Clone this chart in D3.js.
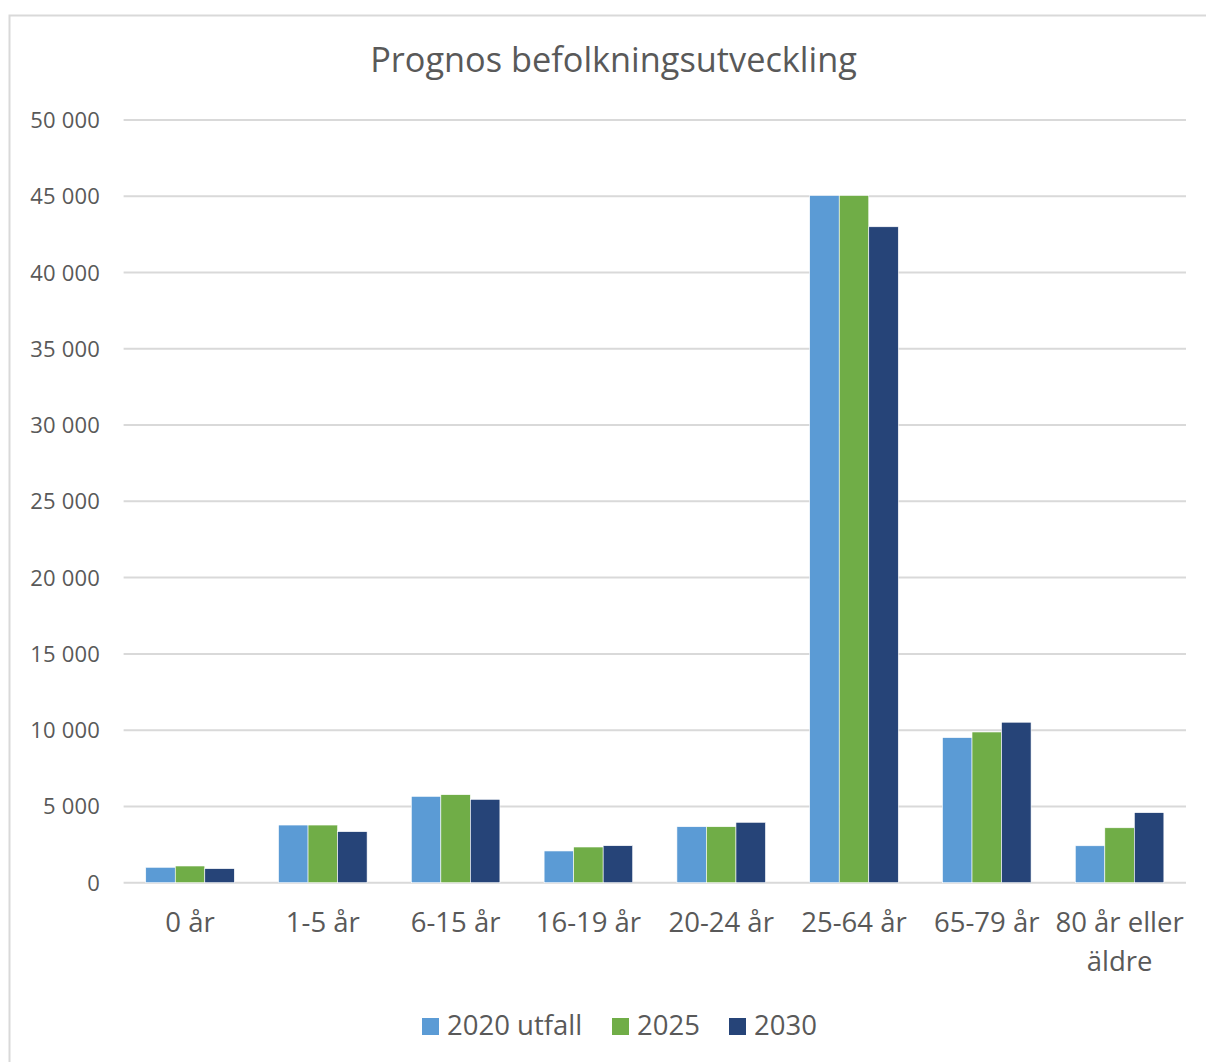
<!DOCTYPE html>
<html>
<head>
<meta charset="utf-8">
<script src="https://cdn.jsdelivr.net/npm/d3@7"></script>
<style>
  body { margin: 0; background: #fff; }
  text { font-family: "Open Sans", "Noto Sans", sans-serif; fill: #595959; }
</style>
</head>
<body>
<svg id="chart" width="1206" height="1062"></svg>
<script>
// data
var categories = ['0 år', '1-5 år', '6-15 år', '16-19 år', '20-24 år', '25-64 år', '65-79 år', '80 år eller äldre'];
var seriesNames = ['2020 utfall', '2025', '2030'];
var seriesColors = ['#5b9bd5', '#70ad47', '#264478'];
var v2020 = [1010, 3780, 5660, 2080, 3670, 45050, 9510, 2420];
var v2025 = [1095, 3780, 5770, 2340, 3670, 45050, 9880, 3600];
var v2030 = [920, 3345, 5465, 2425, 3960, 43000, 10520, 4590];
var yTicks = [0, 5000, 10000, 15000, 20000, 25000, 30000, 35000, 40000, 45000, 50000];

var values = [v2020, v2025, v2030];

var svg = d3.select('#chart');
var plotL = 123.6, plotR = 1186, plotT = 120, plotB = 882.7;

// chart frame
svg.append('rect')
  .attr('x', 9.5).attr('y', 15.5)
  .attr('width', 1300).attr('height', 1200)
  .attr('fill', 'none').attr('stroke', '#d9d9d9').attr('stroke-width', 2);

svg.append('text')
  .attr('x', 613.5).attr('y', 72)
  .attr('text-anchor', 'middle')
  .attr('font-size', 34.3)
  .text('Prognos befolkningsutveckling');

var x = d3.scaleBand().domain(categories).range([plotL, plotR])
  .paddingInner(0.333).paddingOuter(0.1667);
var xs = d3.scaleBand().domain(seriesNames).range([0, x.bandwidth()]);
var y = d3.scaleLinear().domain([0, 50000]).range([plotB, plotT]);

var fmt = function(d) { return d3.format(',')(d).replace(',', ' '); };

// grid
svg.append('g').selectAll('line').data(yTicks).enter().append('line')
  .attr('x1', plotL).attr('x2', plotR)
  .attr('y1', function(d) { return y(d); })
  .attr('y2', function(d) { return y(d); })
  .attr('stroke', '#d9d9d9').attr('stroke-width', 2);

svg.append('g').selectAll('text').data(yTicks).enter().append('text')
  .attr('x', 100)
  .attr('y', function(d) { return y(d) + 8; })
  .attr('text-anchor', 'end')
  .attr('font-size', 22)
  .attr('letter-spacing', 0.2)
  .text(fmt);

// bars
seriesNames.forEach(function(s, si) {
  svg.append('g').selectAll('rect').data(values[si]).enter().append('rect')
    .attr('x', function(d, i) { return x(categories[i]) + xs(s); })
    .attr('y', function(d) { return y(d); })
    .attr('width', xs.bandwidth())
    .attr('height', function(d) { return y(0) - y(d); })
    .attr('fill', seriesColors[si])
    .attr('stroke', '#fff').attr('stroke-width', 0.6);
});

// category labels
var cat = svg.append('g').selectAll('text').data(categories).enter().append('text')
  .attr('x', function(d) { return x(d) + x.bandwidth() / 2; })
  .attr('y', 932)
  .attr('text-anchor', 'middle')
  .attr('font-size', 27.5);
cat.each(function(d) {
  var t = d3.select(this);
  if (d === '80 år eller äldre') {
    t.append('tspan').attr('x', x(d) + x.bandwidth() / 2).text('80 år eller');
    t.append('tspan').attr('x', x(d) + x.bandwidth() / 2).attr('dy', 39).text('äldre');
  } else {
    t.text(d);
  }
});

// legend
var legendX = [422, 612, 729];
seriesNames.forEach(function(s, i) {
  svg.append('rect')
    .attr('x', legendX[i]).attr('y', 1018)
    .attr('width', 17).attr('height', 17)
    .attr('fill', seriesColors[i]);
  svg.append('text')
    .attr('x', legendX[i] + 25).attr('y', 1035)
    .attr('font-size', 27.5)
    .text(s);
});
</script>
</body>
</html>
